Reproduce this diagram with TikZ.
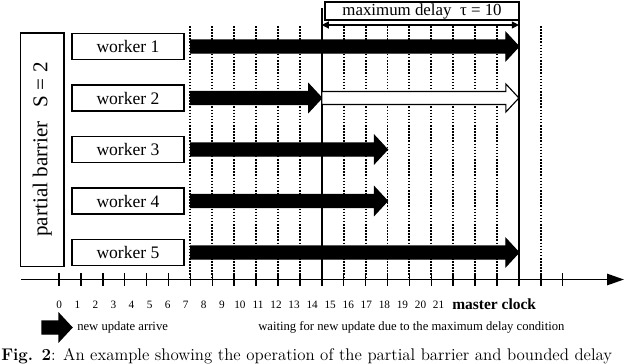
\documentclass[tikz,border=0pt]{standalone}
\usepackage{fontspec}
\newfontfamily\tnr{Liberation Serif}
\usetikzlibrary{arrows.meta,calc}

% 粗箭头：#2 起点，#3 箭尖
\newcommand{\blockarrow}[3][fill=black]{%
	\draw[#1, line width=0.8pt, line join=miter]
		($(#2)+(0,-6.5)$) -- ($(#3)+(-13,-6.5)$) -- ($(#3)+(-13,-14)$) -- (#3)
		-- ($(#3)+(-13,14)$) -- ($(#3)+(-13,6.5)$) -- ($(#2)+(0,6.5)$) -- cycle;}

\begin{document}
\begin{tikzpicture}[x=0.025cm, y=-0.025cm,
		workerbox/.style={draw, line width=0.9pt, minimum width=2.8cm, minimum height=0.65cm,
			inner sep=0pt, font=\tnr\fontsize{12.5}{14}\selectfont},
		dotline/.style={line width=1.3pt, dash pattern=on 1.1pt off 1.1pt},
		clockline/.style={line width=1.3pt},
		ticklabel/.style={font=\tnr\fontsize{8}{9}\selectfont, inner sep=0pt}]
		\useasboundingbox (0,0) rectangle (640,363);

		% 时间轴与刻度
		\foreach \i in {0,...,23}
			\coordinate (t\i) at (59+21.9*\i,279.5);
		\coordinate (axisstart) at (21,279.5);
		\coordinate (axisend) at (624,279.5);
		\draw[line width=1.3pt, -{Triangle[length=12pt,width=8pt]}] (axisstart) -- (axisend);
		\foreach \i in {0,...,23}
			\draw[line width=1.1pt] ($(t\i)+(0,-6.5)$) -- ($(t\i)+(0,6.5)$);

		% 点线网格
		\coordinate (gridtop) at (0,26);
		\foreach \i in {6,7,8,9,10,11,13,14,15,16,17,18,19,20,22}
			\draw[dotline] (t\i |- gridtop) -- (t\i);

		% 最大延迟窗口
		\coordinate (wintop) at (0,8);
		\coordinate (spantop) at (0,25);
		\draw[clockline] (t12 |- wintop) -- (t12);
		\draw[clockline] (t21 |- wintop) -- (t21);
		\node[draw, fill=white, line width=0.9pt, minimum width=4.85cm, minimum height=0.45cm, inner sep=0pt,
			font=\tnr\fontsize{12}{13}\selectfont] (delaybox) at (422,11) {maximum delay\hspace{6pt}τ = 10};
		\draw[line width=0.9pt, {Triangle[length=5pt,width=5pt]}-{Triangle[length=5pt,width=5pt]}]
			(t12 |- spantop) -- (t21 |- spantop);

		% 部分屏障
		\node[draw, rotate=90, line width=0.9pt, minimum width=5.83cm, minimum height=1.08cm, inner sep=0pt,
			font=\tnr\fontsize{15}{16}\selectfont] (barrier) at (42.3,149.5) {partial barrier\hspace{10pt}S = 2};

		% 各 worker 及其更新箭头
		\foreach \i in {1,...,5} {
			\node[workerbox] (w\i) at (128,46.5+51.5*\i-51.5) {worker \i};
			\coordinate (s\i) at (t6 |- w\i);
		}
		\coordinate (f1) at (t21 |- w1);
		\coordinate (f2) at (t12 |- w2);
		\coordinate (g2) at (t21 |- w2);
		\coordinate (f3) at (t15 |- w3);
		\coordinate (f4) at (t15 |- w4);
		\coordinate (f5) at (t21 |- w5);
		\blockarrow{s1}{f1}
		\blockarrow{s2}{f2}
		\blockarrow[fill=white]{f2}{g2}
		\blockarrow{s3}{f3}
		\blockarrow{s4}{f4}
		\blockarrow{s5}{f5}

		% 刻度数字
		\foreach \i in {0,...,21}
			\node[ticklabel] (n\i) at (59.3+18.06*\i,305) {\i};
		\node[font=\tnr\bfseries\fontsize{11}{12}\selectfont, anchor=west, inner sep=0pt] (clocklabel) at (452,304) {master clock};

		% 图例
		\coordinate (legstart) at (42,327.5);
		\coordinate (legtip) at (72,327.5);
		\blockarrow{legstart}{legtip}
		\node[font=\tnr\fontsize{9}{10}\selectfont, anchor=west, inner sep=0pt] (legnew) at (77,327.5) {new update arrive};
		\node[font=\tnr\fontsize{9}{10}\selectfont, anchor=west, inner sep=0pt] (legwait) at (258,327.5)
			{waiting for new update due to the maximum delay condition};

		% 图注
		\node[anchor=base west, inner sep=0pt, font=\fontsize{12}{14}\selectfont] (caption) at (1,360)
			{\textbf{Fig. 2}: An example showing the operation of the partial barrier and bounded delay};
	\end{tikzpicture}
\end{document}
